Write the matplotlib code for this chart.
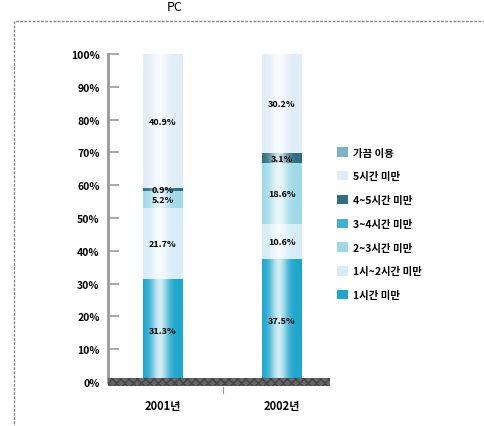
import numpy as np
import matplotlib.pyplot as plt
from matplotlib.patches import Patch, Rectangle

plt.rcParams['font.family'] = ['Noto Sans CJK KR', 'DejaVu Sans']

years = ["2001년", "2002년"]
cats = ["1시간 미만", "1시~2시간 미만", "2~3시간 미만", "3~4시간 미만",
        "4~5시간 미만", "5시간 미만", "가끔 이용"]
v2001 = [31.3, 21.7, 5.2, 0.0, 0.9, 40.9, 0.0]
v2002 = [37.5, 10.6, 18.6, 0.0, 3.1, 30.2, 0.0]
colors = ["#1ea6cc", "#d6ecf7", "#9fd9e8", "#3fb2cf", "#2e6e80", "#e0edf6", "#7db4c6"]
yticks = [0, 10, 20, 30, 40, 50, 60, 70, 80, 90, 100]

fig = plt.figure(figsize=(4.85, 4.27), dpi=100)
ax = fig.add_axes([108/485, 1-383/427, 222/485, 328/427])

xs = np.arange(len(years))
w = 0.336
data = np.array([v2001, v2002])
bottom = np.zeros(len(years))
for i, c in enumerate(cats):
    ax.bar(xs, data[:, i], w, bottom=bottom, color=colors[i], edgecolor="none", zorder=2)
    for j in range(len(years)):
        v = data[j, i]
        if v > 0:
            ax.text(xs[j], bottom[j] + v/2, f"{v:.1f}%", ha="center", va="center",
                    fontsize=6.5, fontweight="bold", color="black", zorder=5)
    bottom += data[:, i]

# cylinder shading
g = np.linspace(0, 1, 64)
shade = np.zeros((1, 64, 4))
shade[..., :3] = 1
shade[0, :, 3] = 0.8*np.exp(-((g-0.42)/0.22)**2)
for x in xs:
    ax.imshow(shade, extent=[x-w/2, x+w/2, 0, 100], aspect="auto", zorder=3,
              interpolation="bilinear")

ax.set_xlim(-0.462, 1.403)
ax.set_ylim(0, 100)
ax.set_yticks(yticks)
ax.set_yticklabels([f"{t}%" for t in yticks], fontsize=7.5, fontweight="bold")
ax.tick_params(axis="y", direction="in", length=8, width=1.2, color="#999999", pad=6)
ax.set_xticks(xs)
ax.set_xticklabels(years, fontsize=8, fontweight="bold")
ax.tick_params(axis="x", length=0, pad=12)
for s in ["top", "right", "bottom"]:
    ax.spines[s].set_visible(False)
ax.spines["left"].set_color("#999999")
ax.spines["left"].set_linewidth(2)

# base
ax.add_patch(Rectangle((-0.462, -1.2), 1.865, 2.4, facecolor="#666666", edgecolor="#444444",
                       hatch="xxxx", lw=0, clip_on=False, zorder=4))
ax.plot([0.5, 0.5], [-1.5, -3.5], color="#999999", lw=0.8, clip_on=False)

handles = [Patch(facecolor=colors[i], edgecolor="none") for i in range(len(cats))][::-1]
leg = fig.legend(handles, cats[::-1], loc="upper left", bbox_to_anchor=(328/485, 1-139/427),
                 frameon=False, fontsize=7.5, handlelength=1.0, handleheight=1.0,
                 labelspacing=1.3, handletextpad=0.5)
for t in leg.get_texts():
    t.set_fontweight("bold")

fig.add_artist(Rectangle((14/485, -0.05), 1.1, 0.948+0.05, transform=fig.transFigure,
                         fill=False, edgecolor="#888888", lw=1, ls=(0, (2, 1))))
fig.text(175/485, 0.982, "PC", ha="center", va="center", fontsize=9)

fig.savefig("out.png", dpi=100)
